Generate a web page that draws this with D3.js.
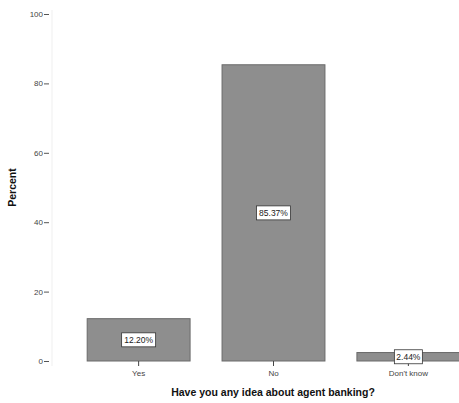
<!DOCTYPE html>
<html>
<head>
<meta charset="utf-8">
<script src="https://cdn.jsdelivr.net/npm/d3@7"></script>
<style>
  html, body { margin: 0; padding: 0; background: #fff; }
  svg { display: block; }
</style>
</head>
<body>
<svg id="chart" width="459" height="403"></svg>
<script>
// Survey answers and their share of respondents (percent)
const categories = ["Yes", "No", "Don't know"];
const percents = [12.20, 85.37, 2.44];
const yTicks = [0, 20, 40, 60, 80, 100];

const svg = d3.select("#chart");

const x = d3.scaleBand()
  .domain(categories)
  .range([71, 476])
  .paddingInner(0.237)
  .paddingOuter(0.12);

const y = d3.scaleLinear().domain([0, 100]).range([361, 14]);

// faint left frame line
svg.append("line")
  .attr("x1", 52).attr("x2", 52)
  .attr("y1", 10).attr("y2", 366)
  .attr("stroke", "#efefef").attr("stroke-width", 1);

// y axis
const yAxis = svg.append("g")
  .attr("transform", "translate(49,0)")
  .call(d3.axisLeft(y).tickValues(yTicks).tickSize(5).tickPadding(1).tickFormat(d3.format("d")));
yAxis.select(".domain").remove();
yAxis.selectAll(".tick line").attr("stroke", "#555");
yAxis.selectAll(".tick text")
  .attr("font-family", "Arial, 'Liberation Sans', sans-serif")
  .attr("font-size", 8).attr("fill", "#444");

// bars
svg.append("g").selectAll("rect")
  .data(percents)
  .join("rect")
  .attr("x", (d, i) => x(categories[i]))
  .attr("width", x.bandwidth())
  .attr("y", d => y(d))
  .attr("height", d => y(0) - y(d))
  .attr("fill", "#8e8e8e")
  .attr("stroke", "#6a6a6a")
  .attr("stroke-width", 1);

// x axis ticks and labels
const xAxis = svg.append("g")
  .attr("transform", `translate(0,${y(0)})`)
  .call(d3.axisBottom(x).tickSize(5).tickPadding(4));
xAxis.select(".domain").remove();
xAxis.selectAll(".tick line").attr("stroke", "#444");
xAxis.selectAll(".tick text")
  .attr("font-family", "Arial, 'Liberation Sans', sans-serif")
  .attr("font-size", 8).attr("fill", "#444");

// value labels in boxes at bar midpoints
const fmt = d => d.toFixed(2) + "%";
const labels = svg.append("g").selectAll("g")
  .data(percents)
  .join("g")
  .attr("transform", (d, i) => `translate(${x(categories[i]) + x.bandwidth() / 2},${(y(d) + y(0)) / 2})`);
labels.append("rect")
  .attr("x", d => d < 10 ? -14 : -17).attr("y", -7)
  .attr("width", d => d < 10 ? 28 : 34).attr("height", 14)
  .attr("fill", "#fff").attr("stroke", "#333").attr("stroke-width", 0.8);
labels.append("text")
  .attr("text-anchor", "middle").attr("dy", "0.35em")
  .attr("font-family", "Arial, 'Liberation Sans', sans-serif")
  .attr("font-size", 8.5).attr("fill", "#222")
  .text(d => fmt(d));

// axis titles
svg.append("text")
  .attr("x", 273).attr("y", 396)
  .attr("text-anchor", "middle")
  .attr("font-family", "Arial, 'Liberation Sans', sans-serif")
  .attr("font-size", 10.5).attr("font-weight", "bold").attr("fill", "#111")
  .text("Have you any idea about agent banking?");

svg.append("text")
  .attr("transform", `translate(16,${(y(0) + y(100)) / 2}) rotate(-90)`)
  .attr("text-anchor", "middle")
  .attr("font-family", "Arial, 'Liberation Sans', sans-serif")
  .attr("font-size", 10.5).attr("font-weight", "bold").attr("fill", "#111")
  .text("Percent");
</script>
</body>
</html>
